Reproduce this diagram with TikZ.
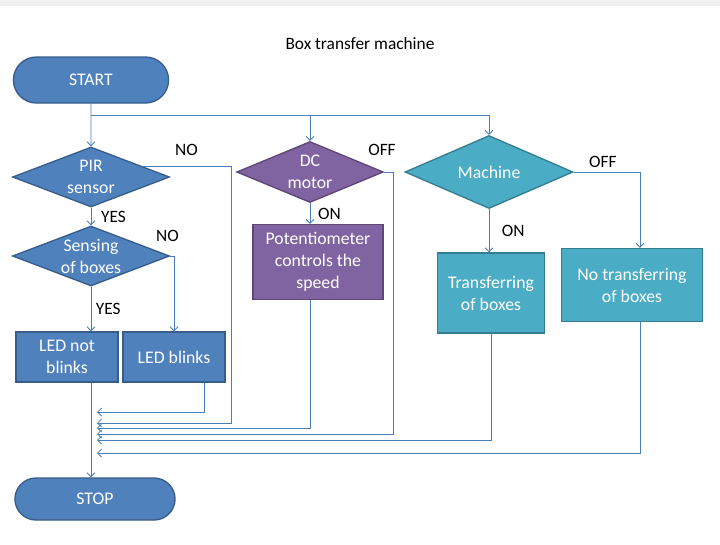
\documentclass[tikz,border=0pt]{standalone}
\usepackage{fontspec}
\setmainfont{Carlito}
\usetikzlibrary{calc}
\usetikzlibrary{arrows.meta}
\usetikzlibrary{shapes.geometric}
\usetikzlibrary{shapes.misc}
\definecolor{blueFill}{HTML}{4F81BD}
\definecolor{blueLine}{HTML}{385D8A}
\definecolor{violetFill}{HTML}{8064A2}
\definecolor{violetLine}{HTML}{5C4776}
\definecolor{tealFill}{HTML}{4BACC6}
\definecolor{tealLine}{HTML}{357D91}
\definecolor{flowLine}{HTML}{4A7EBB}
\tikzset{%
	>={Straight Barb[length=3pt,width=6pt]},
	% Specifications for style of nodes:
	base/.style = {draw=blueLine, fill=blueFill, line width=1pt, text=white,
				   align=center, font=\fontsize{13.3}{16.5}\selectfont},
	terminal/.style = {base, rounded rectangle, minimum width=123pt, minimum height=34.5pt},
	decision/.style = {base, diamond, inner xsep=-14pt, inner ysep=-18pt,
					   minimum width=117.75pt, minimum height=45pt},
	action/.style = {base, rectangle, minimum width=76.5pt, minimum height=37.5pt},
	dcpart/.style = {draw=violetLine, fill=violetFill},
	beltpart/.style = {draw=tealLine, fill=tealFill},
	answer/.style = {font=\fontsize{13}{15}\selectfont, text=black},
	flow/.style = {->, draw=flowLine, line width=0.6pt},
}
\begin{document}
\begin{tikzpicture}[node distance=60pt]

	% page and margins
	\fill[white] (-68.25pt,-348pt) rectangle (471.75pt,60pt);
	\fill[gray!12] (-68.25pt,55.5pt) rectangle (471.75pt,60pt);

	% Specification of nodes (position, etc.)

	\node (start)      [terminal]                                              {START};
	\node (title)      [answer, right of=start, xshift=141.75pt, yshift=27pt] {Box transfer machine};
	\node (pir)        [decision, below of=start, yshift=-12.75pt]             {PIR\\sensor};
	\node (sensing)    [decision, below of=pir, yshift=0.75pt]                 {Sensing\\of boxes};
	\node (ledNot)     [action, below of=sensing, xshift=-18pt, yshift=-15.75pt] {LED not\\blinks};
	\node (ledBlink)   [action, right of=ledNot, xshift=20.25pt]               {LED blinks};
	\node (stop)       [terminal, below of=ledNot, xshift=21pt, yshift=-46.5pt,
						minimum width=126.75pt, minimum height=31.5pt]         {STOP};
	\node (dc)         [decision, dcpart, right of=pir, xshift=104.25pt, yshift=3.75pt,
						minimum width=110pt, minimum height=45.75pt]           {DC\\motor};
	\node (pot)        [action, dcpart, below of=dc, xshift=6pt, yshift=-7.5pt,
						minimum width=97.5pt, minimum height=56.25pt]          {Potentiometer\\controls the\\speed};
	\node (machine)    [decision, beltpart, right of=dc, xshift=74.25pt,
						minimum width=126pt, minimum height=54.75pt]           {Machine};
	\node (transfer)   [action, beltpart, below of=machine, xshift=1.5pt, yshift=-30.75pt,
						minimum width=80.25pt, minimum height=60pt]            {Transferring\\of boxes};
	\node (noTransfer) [action, beltpart, right of=transfer, xshift=45.75pt, yshift=6pt,
						minimum width=105.75pt, minimum height=54.75pt]        {No transferring\\of boxes};

	% corners and ends of the lines back to STOP
	\foreach \n/\x/\y in {1/84.75/-249, 2/105/-257.25, 3/164.25/-261,
						  4/226.5/-265.5, 5/300/-270, 6/411.75/-279.75} {
		\coordinate (c\n) at (\x pt,\y pt);
		\coordinate (r\n) at (4.5pt,\y pt);
	}
	\coordinate (split) at ($(start.south)+(0,-9pt)$);

	% Specification of lines between nodes specified above

	\draw[flow] (start) -- (pir);
	\draw[flow] (split) -| (dc.north);
	\draw[flow] (split) -| (machine.north);
	\draw[flow] (pir) -- node[answer, right=4pt] {YES} (sensing);
	\draw[flow] (pir.12) -| node[answer, pos=0.25, above=4pt] {NO} (c2) -- (r2);
	\draw[flow] (sensing.east) node[answer, above=7.5pt, xshift=-2pt] {NO} -| (ledBlink.north);
	\draw[flow] (sensing) -- node[answer, right] {YES} (sensing.south |- ledNot.north);
	\draw[flow] (ledNot.south -| pir) -- (stop.north -| pir);
	\draw[flow] (ledBlink.south -| c1) -- (c1) -- (r1);
	\draw[flow] (dc) -- node[answer, right=2.5pt] {ON} (dc.south |- pot.north);
	\draw[flow] (dc.east) node[answer, above=8.5pt, xshift=-1.5pt] {OFF} -| (c4) -- (r4);
	\draw[flow] (pot.south -| c3) -- (c3) -- (r3);
	\draw[flow] (machine) -- node[answer, right=6pt] {ON} (machine.south |- transfer.north);
	\draw[flow] (machine.east) -| node[answer, pos=0.22, above] {OFF} (noTransfer.north -| c6);
	\draw[flow] (transfer.south -| c5) -- (c5) -- (r5);
	\draw[flow] (noTransfer.south -| c6) -- (c6) -- (r6);

\end{tikzpicture}
\end{document}
